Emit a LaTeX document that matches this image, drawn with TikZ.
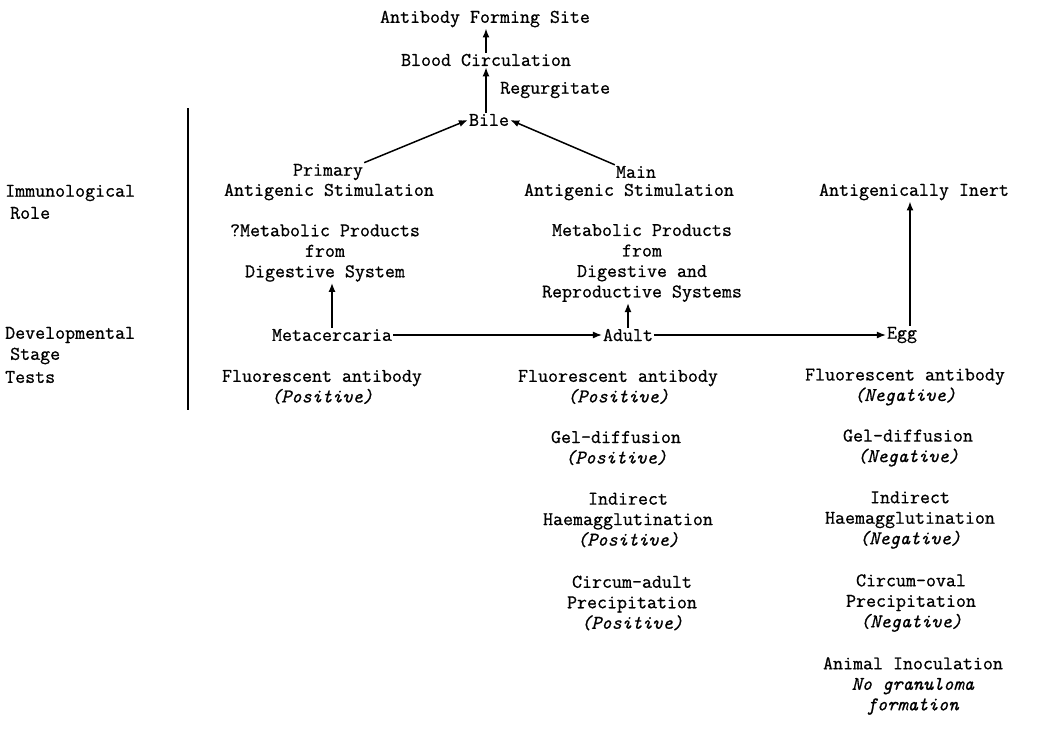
\documentclass[tikz,border=0pt]{standalone}
\usepackage{fontspec}
\setmonofont{Latin Modern Mono}[FakeBold=0.8]
\usetikzlibrary{arrows.meta}

\begin{document}
\begin{tikzpicture}[x=1pt,y=-1pt,
  txt/.style={inner sep=1pt, align=center, font=\ttfamily\fontsize{19.4}{20.5}\selectfont},
  lft/.style={txt, anchor=west},
  flow/.style={-{Latex[length=9pt,width=7pt]}, line width=1.5pt}]
 \useasboundingbox (0,0) rectangle (1051,734);

 % route to the antibody forming site
 \node[txt] (site) at (485,19) {Antibody Forming Site};
 \node[txt] (blood) at (486,60) {Blood Circulation};
 \node[txt] (bile) at (489,120) {Bile};
 \node[lft] (regurg) at (499,90) {Regurgitate};

 % immunological role
 \node[txt] (primary) at (328,172) {Primary};
 \node[txt] (stimL) at (329,192) {Antigenic Stimulation};
 \node[txt] (main) at (636,172) {Main};
 \node[txt] (stimM) at (629,192) {Antigenic Stimulation};
 \node[txt] (inert) at (914,192) {Antigenically Inert};
 \node[txt] (metaL) at (325,253) {?Metabolic Products\\from\\Digestive System};
 \node[txt] (metaM) at (642,263) {Metabolic Products\\from\\Digestive and\\Reproductive Systems};

 % developmental stage
 \node[txt] (metac) at (332,335) {Metacercaria};
 \node[txt] (adult) at (628,335) {Adult};
 \node[txt] (egg) at (902,335) {Egg};

 % row labels
 \node[lft] (immuno) at (4,193) {Immunological};
 \node[lft] (role) at (9,213) {Role};
 \node[lft] (devel) at (4,335) {Developmental};
 \node[lft] (stage) at (9,356) {Stage};
 \node[lft] (tests) at (4,377) {Tests};
 \draw[line width=1.2pt] (188,108) -- (188,410);

 % tests
 \node[txt] (faL) at (322,387) {Fluorescent antibody\\\textit{(Positive)}};
 \node[txt] (faM) at (618,387) {Fluorescent antibody\\\textit{(Positive)}};
 \node[txt] (gelM) at (616,448) {Gel-diffusion\\\textit{(Positive)}};
 \node[txt] (ihaM) at (628,520) {Indirect\\Haemagglutination\\\textit{(Positive)}};
 \node[txt] (cpM) at (632,603) {Circum-adult\\Precipitation\\\textit{(Positive)}};
 \node[txt] (faR) at (905,387) {Fluorescent antibody\\\textit{(Negative)}};
 \node[txt] (gelR) at (908,448) {Gel-diffusion\\\textit{(Negative)}};
 \node[txt] (ihaR) at (910,520) {Indirect\\Haemagglutination\\\textit{(Negative)}};
 \node[txt] (coR) at (911,603) {Circum-oval\\Precipitation\\\textit{(Negative)}};
 \node[txt] (aiR) at (913,686) {Animal Inoculation\\\textit{No granuloma}\\\textit{formation}};

 % arrows
 \draw[flow] (blood.north) -- (blood.north |- site.south);
 \draw[flow] (bile.north -| blood) -- (blood.south);
 \draw[flow] (primary.north east) -- (bile.west);
 \draw[flow] (main.north west) -- (bile.east);
 \draw[flow] (metac.north) -- (metac.north |- metaL.south);
 \draw[flow] (adult.north) -- (adult.north |- metaM.south);
 \draw[flow] ([xshift=8pt]egg.north) -- ([xshift=8pt]egg.north |- inert.south);
 \draw[flow, line width=1.1pt] (metac.east) -- (adult.west);
 \draw[flow, line width=1.1pt] (adult.east) -- (egg.west);
\end{tikzpicture}
\end{document}
